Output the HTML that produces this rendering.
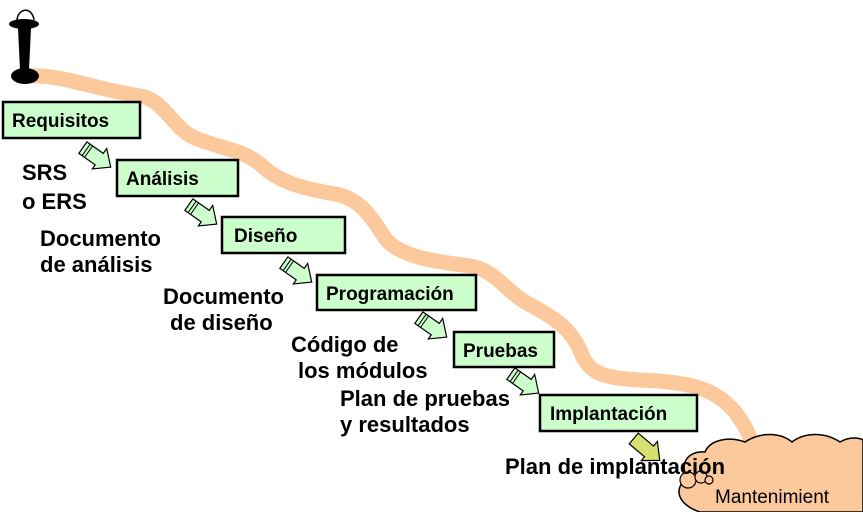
<!DOCTYPE html>
<html><head><meta charset="utf-8"><style>
body{margin:0;background:#fff;}
svg{display:block;font-family:"Liberation Sans",Arial,sans-serif;}
.b{fill:#ccffcc;stroke:#000;stroke-width:2.5;}
.bt{font-weight:bold;font-size:19px;fill:#000;}
.t{font-weight:bold;font-size:22px;fill:#000;}
.ar{fill:#ccffcc;stroke:#000;stroke-width:1.2;}
</style></head><body>
<svg width="863" height="512" viewBox="0 0 863 512">
<defs>
<g id="a"><polygon class="ar" points="0,-5 20,-5 20,-11 34,2 20,14 20,9 0,9"/><line x1="4" y1="-5" x2="4" y2="9" stroke="#000"/><line x1="7" y1="-5" x2="7" y2="9" stroke="#000"/></g>
</defs>
<path d="M28,76 C60,74 90,88 140,96 C165,100 172,128 195,138 C225,150 245,150 262,166 C280,182 300,188 335,194 C360,198 372,218 385,238 C400,258 440,262 470,266 C495,270 505,290 525,302 C555,318 570,328 580,350 C588,372 600,378 640,380 C690,382 715,388 735,412 C745,425 750,435 752,445" fill="none" stroke="#fbc99c" stroke-width="15" stroke-linecap="round"/>
<!-- cloud -->
<path d="M700,512 C678,505 672,488 688,478 C678,465 688,450 705,452 C710,440 728,436 745,442 C760,432 780,432 792,442 C805,432 825,432 840,442 C850,436 860,438 863,440 L863,512 Z" fill="#fbc99c" stroke="#000" stroke-width="1.5"/>
<circle cx="688" cy="480" r="8" fill="#fbc99c" stroke="#000" stroke-width="1.2"/>
<circle cx="701" cy="477" r="6" fill="#fbc99c" stroke="#000" stroke-width="1.2"/>
<circle cx="709" cy="480" r="4" fill="#fbc99c" stroke="#000" stroke-width="1.2"/>
<!-- pedestal -->
<ellipse cx="24" cy="24" rx="15" ry="5" fill="#000"/>
<path d="M17,20 C18,8 32,6 34,20" fill="none" stroke="#000" stroke-width="1.5"/>
<path d="M18,28 L31,28 L29,70 L20,70 Z" fill="#000"/>
<ellipse cx="25" cy="76" rx="14" ry="8" fill="#000"/>
<!-- boxes -->
<rect class="b" x="3" y="102" width="137" height="36"/><text class="bt" x="12" y="127">Requisitos</text>
<rect class="b" x="117" y="160" width="121" height="36"/><text class="bt" x="126" y="185">Análisis</text>
<rect class="b" x="222" y="217" width="123" height="36"/><text class="bt" x="234" y="242">Diseño</text>
<rect class="b" x="317" y="275" width="159" height="35"/><text class="bt" x="326" y="300">Programación</text>
<rect class="b" x="454" y="332" width="100" height="35"/><text class="bt" x="463" y="357">Pruebas</text>
<rect class="b" x="540" y="395" width="157" height="36"/><text class="bt" x="550" y="420">Implantación</text>
<!-- arrows -->
<use href="#a" transform="translate(84,146) rotate(35)"/>
<use href="#a" transform="translate(190,203) rotate(35)"/>
<use href="#a" transform="translate(285,261) rotate(35)"/>
<use href="#a" transform="translate(420,316) rotate(35)"/>
<use href="#a" transform="translate(512,372) rotate(35)"/>
<g transform="translate(635,437) rotate(40)"><polygon points="0,-5 20,-5 20,-11 34,2 20,14 20,9 0,9" fill="#d8e070" stroke="#000" stroke-width="1.2"/></g>
<!-- labels -->
<text class="t" x="22" y="180">SRS</text>
<text class="t" x="22" y="209">o ERS</text>
<text class="t" x="40" y="246">Documento</text>
<text class="t" x="40" y="272">de análisis</text>
<text class="t" x="163" y="304">Documento</text>
<text class="t" x="170" y="330">de diseño</text>
<text class="t" x="291" y="352">Código de</text>
<text class="t" x="298" y="378">los módulos</text>
<text class="t" x="340" y="406">Plan de pruebas</text>
<text class="t" x="340" y="432">y resultados</text>
<text class="t" x="505" y="474">Plan de implantación</text>
<text x="715" y="503" font-size="19" fill="#000">Mantenimient</text>
</svg>
</body></html>
